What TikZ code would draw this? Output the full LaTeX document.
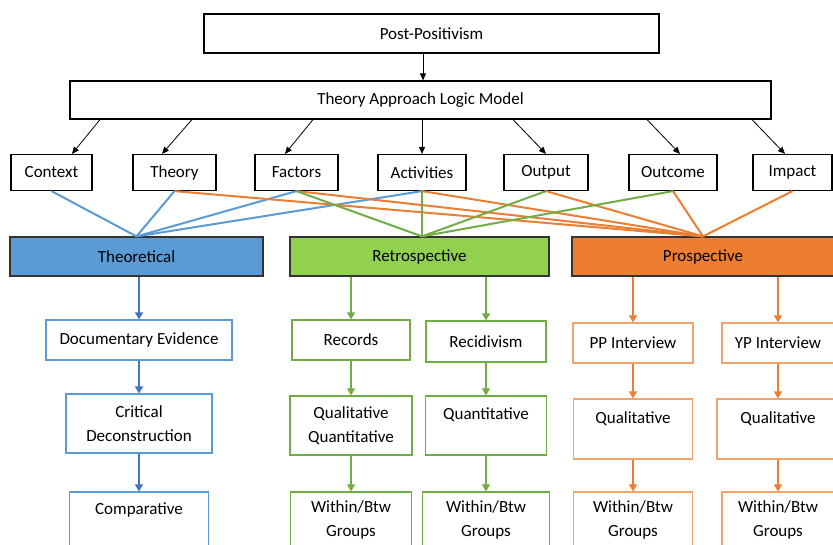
\documentclass[tikz,border=0pt]{standalone}
\usepackage{fontspec}
\setmainfont{Carlito}
\usetikzlibrary{arrows.meta}
\definecolor{tblue}{HTML}{5B9BD5}
\definecolor{tbluedark}{HTML}{4472C4}
\definecolor{tgreen}{HTML}{70AD47}
\definecolor{tgreenfill}{HTML}{92D050}
\definecolor{torange}{HTML}{ED7D31}
\definecolor{torangelight}{HTML}{F4A46A}

\begin{document}
\begin{tikzpicture}[x=1pt, y=-1pt, font=\fontsize{17}{23.5}\selectfont,
		box/.style={draw, line width=1.2pt, inner sep=0pt, align=center},
		wh/.style 2 args={minimum width=#1, minimum height=#2},
		>={Triangle[length=7pt, width=6pt]}]
	\useasboundingbox (0,0) rectangle (833,545);
	\clip (0,0) rectangle (833,545);

	\node[box, wh={455}{39}] (post) at (431.5,33.5) {Post-Positivism};
	\node[box, wh={701}{38}] (talm) at (420.5,100) {Theory Approach Logic Model};
	\foreach \n/\x/\w/\t in {context/51.5/81/Context, theory/174.5/83/Theory, factors/296.5/83/Factors, activities/422/88/Activities, output/546/84/Output, outcome/673/88/Outcome, impact/792.5/79/Impact}
		\node[box, wh={\w}{36}] (\n) at (\x,172.5) {\t};

	\draw [->, line width=0.8pt] ([xshift=-8.5]post.south) -- ([xshift=-8.5]post.south |- talm.north);
	\foreach \n/\a/\b in {context/-320.5/20.5, theory/-228.5/-12.5, factors/-107.5/-11.5, activities/1.5/0, output/92.5/0, outcome/226.5/7, impact/331.5/-7.5}
		\draw [->, line width=0.8pt] ([xshift=\a]talm.south) -- ([xshift=\b]\n.north);

	\node[box, wh={253}{39}, draw=black!80, fill=tblue] (theo) at (136.5,256.5) {Theoretical};
	\node[box, wh={259}{39}, draw=black!80, fill=tgreenfill] (retro) at (419.5,256.5) {Retrospective};
	\node[box, wh={262}{39}, draw=black!80, fill=torange] (prosp) at (703,256.5) {Prospective};

	\foreach \n in {context, theory, factors, activities}
		\draw [tblue, line width=2pt] (\n.south) -- (theo.north);
	\foreach \n in {theory, factors, activities, output, outcome, impact}
		\draw [torange, line width=2pt] (\n.south) -- (prosp.north);
	\foreach \n in {factors, activities, output, outcome}
		\draw [tgreen, line width=2pt] (\n.south) -- (activities.south |- retro.north);

	\node[box, draw=tblue, wh={186}{40}] (docev) at (139,340) {Documentary Evidence};
	\node[box, draw=tblue, wh={146}{59}] (critdec) at (139,423.5) {Critical\\Deconstruction};
	\node[box, draw=tblue, wh={139}{56}] (compar) at (139,520) {Comparative\\\mbox{}};

	\node[box, draw=tgreen, wh={118}{40}] (records) at (351,340) {Records};
	\node[box, draw=tgreen, wh={122}{59}] (qualquant) at (351,425.5) {Qualitative\\Quantitative};
	\node[box, draw=tgreen, wh={121}{56}] (retrowb) at (351,520) {Within/Btw\\Groups};
	\node[box, draw=tgreen, wh={120}{41}] (recid) at (486,341.5) {Recidivism};
	\node[box, draw=tgreen, wh={121}{59}] (quant) at (486,425.5) {Quantitative\\\mbox{}};
	\node[box, draw=tgreen, wh={127}{56}] (recidwb) at (486,520) {Within/Btw\\Groups};

	\node[box, draw=torangelight, wh={120}{40}] (ppint) at (633,343) {PP Interview};
	\node[box, draw=torangelight, wh={119}{60}] (ppqual) at (633,429) {Qualitative\\\mbox{}};
	\node[box, draw=torangelight, wh={119}{56}] (ppwb) at (633,520) {Within/Btw\\Groups};
	\node[box, draw=torangelight, wh={112}{40}] (ypint) at (778,343) {YP Interview};
	\node[box, draw=torangelight, wh={122}{60}] (ypqual) at (778,429) {Qualitative\\\mbox{}};
	\node[box, draw=torangelight, wh={112}{56}] (ypwb) at (778,520) {Within/Btw\\Groups};

	\foreach \a/\b in {theo/docev, docev/critdec, critdec/compar}
		\draw [->, tbluedark, line width=1.6pt, >={Triangle[length=7pt, width=8pt]}] (\a.south -| \b) -- (\b);
	\foreach \a/\b in {retro/records, records/qualquant, qualquant/retrowb, retro/recid, recid/quant, quant/recidwb}
		\draw [->, tgreen, line width=1.6pt, >={Triangle[length=7pt, width=8pt]}] (\a.south -| \b) -- (\b);
	\foreach \a/\b in {prosp/ppint, ppint/ppqual, ppqual/ppwb, prosp/ypint, ypint/ypqual, ypqual/ypwb}
		\draw [->, torange, line width=1.6pt, >={Triangle[length=7pt, width=8pt]}] (\a.south -| \b) -- (\b);
\end{tikzpicture}
\end{document}
